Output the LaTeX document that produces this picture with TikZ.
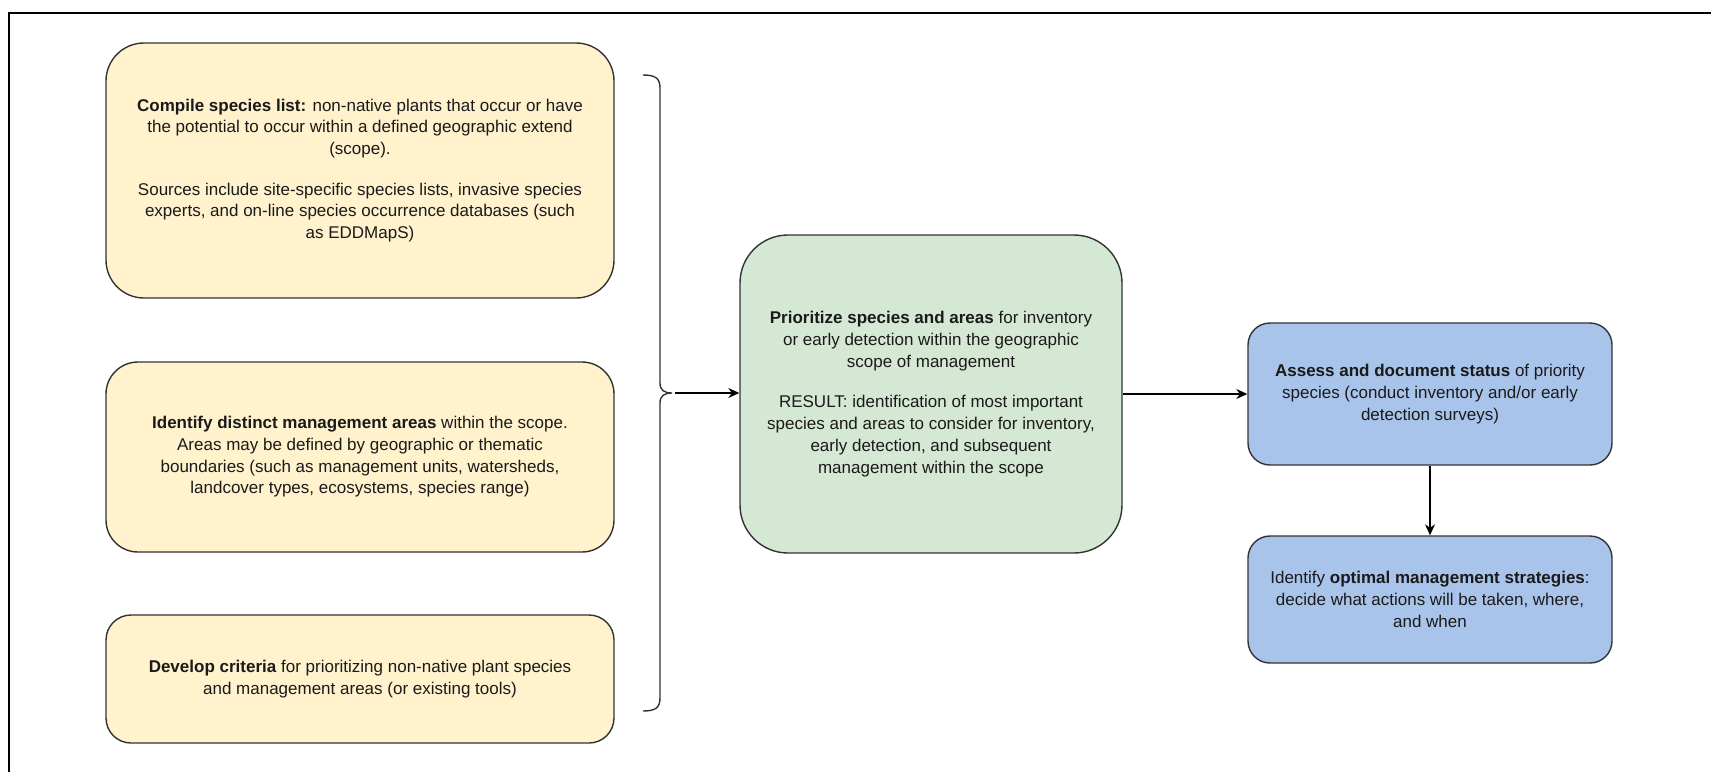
\documentclass[tikz,border=0pt]{standalone}
\usepackage{fontspec}
\setmainfont{Liberation Sans}
\usetikzlibrary{arrows.meta}
\definecolor{yel}{HTML}{FFF2CC}
\definecolor{grn}{HTML}{D5E8D4}
\definecolor{blu}{HTML}{A9C4EB}
\definecolor{edge}{HTML}{333333}
\definecolor{txt}{HTML}{1A1A1A}
\tikzset{
  box/.style={draw=edge, line width=1.4pt, align=center, text=txt,
    font=\fontsize{17}{21.7}\selectfont, inner sep=0pt},
  ybox/.style={box, fill=yel, minimum width=508pt},
  gbox/.style={box, fill=grn, minimum width=382pt, minimum height=318pt, rounded corners=48pt},
  bbox/.style={box, fill=blu, minimum width=364pt, rounded corners=22pt},
  conn/.style={draw=black, line width=1.4pt, -{Stealth[length=11pt,width=10pt]}},
  brace/.style={draw=edge, line width=1.4pt},
  frame/.style={draw=black, line width=2pt}
}
\begin{document}
\begin{tikzpicture}[x=1pt,y=-1pt]
\useasboundingbox (0,0) rectangle (1711,772);
\draw[frame] (9,772) -- (9,13) -- (1711,13);

\node[ybox, minimum height=255pt, rounded corners=38pt] (b1) at (360,170.5)
  {\textbf{Compile species list:} non-native plants that occur or have\\
   the potential to occur within a defined geographic extend\\
   (scope).\\[19pt]
   Sources include site-specific species lists, invasive species\\
   experts, and on-line species occurrence databases (such\\
   as EDDMapS)};
\node[ybox, minimum height=190pt, rounded corners=32pt] (b2) at (360,457)
  {\textbf{Identify distinct management areas} within the scope.\\
   Areas may be defined by geographic or thematic\\
   boundaries (such as management units, watersheds,\\
   landcover types, ecosystems, species range)};
\node[ybox, minimum height=128pt, rounded corners=25pt] (b3) at (360,679)
  {\textbf{Develop criteria} for prioritizing non-native plant species\\
   and management areas (or existing tools)};

\node[gbox] (g) at (931,394)
  {\textbf{Prioritize species and areas} for inventory\\
   or early detection within the geographic\\
   scope of management\\[19pt]
   RESULT: identification of most important\\
   species and areas to consider for inventory,\\
   early detection, and subsequent\\
   management within the scope};

\node[bbox, minimum height=142pt] (a1) at (1430,394)
  {\textbf{Assess and document status} of priority\\
   species (conduct inventory and/or early\\
   detection surveys)};
\node[bbox, minimum height=127pt] (a2) at (1430,599.5)
  {Identify \textbf{optimal management strategies}:\\
   decide what actions will be taken, where,\\
   and when};

\draw[brace] (643,75) .. controls (655,75) and (660,78) .. (660,88)
  -- (660,383) .. controls (660,390) and (664,393) .. (672,393)
  .. controls (664,393) and (660,396) .. (660,403)
  -- (660,698) .. controls (660,708) and (655,711) .. (643,711);
\coordinate (bt) at (675,393);

\draw[conn] (bt) -- (g.west |- bt);
\draw[conn] (g.east |- a1.west) -- (a1.west);
\draw[conn] (a1.south) -- (a2.north);
\end{tikzpicture}
\end{document}
